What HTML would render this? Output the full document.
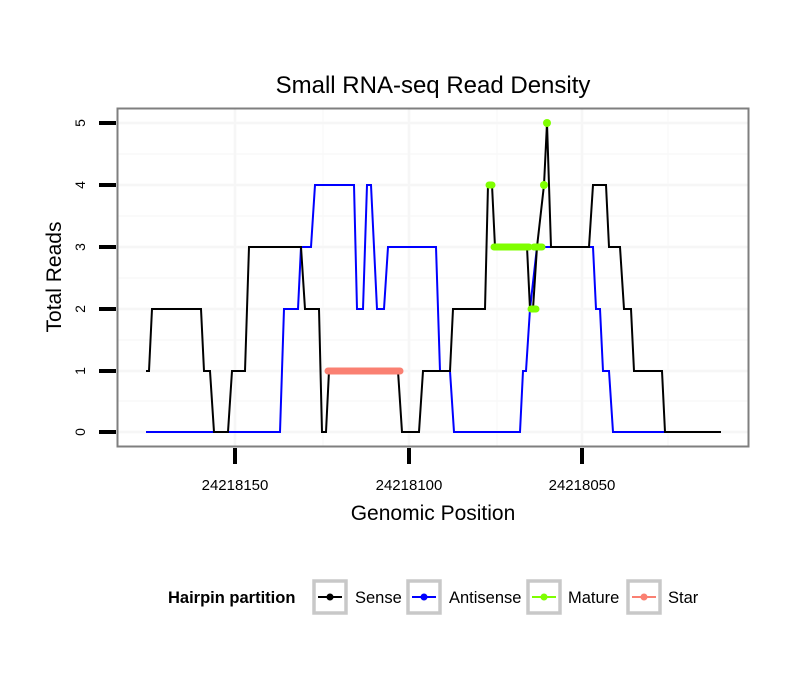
<!DOCTYPE html>
<html><head><meta charset="utf-8"><style>body{margin:0;background:#fff}svg{display:block}text{font-family:"Liberation Sans",sans-serif}</style></head><body>
<svg width="810" height="690" viewBox="0 0 810 690" xmlns="http://www.w3.org/2000/svg">
<rect width="810" height="690" fill="#fff"/>
<text x="433" y="93" font-size="24" text-anchor="middle">Small RNA-seq Read Density</text>
<g stroke="#f8f8f8" stroke-width="1.2">
<line x1="118" x2="748" y1="401" y2="401"/><line x1="118" x2="748" y1="340" y2="340"/><line x1="118" x2="748" y1="278" y2="278"/><line x1="118" x2="748" y1="216" y2="216"/><line x1="118" x2="748" y1="154" y2="154"/>
<line x1="323" x2="323" y1="109" y2="446"/><line x1="497" x2="497" y1="109" y2="446"/><line x1="668" x2="668" y1="109" y2="446"/>
</g>
<g stroke="#f6f6f6" stroke-width="2.5">
<line x1="118" x2="748" y1="432" y2="432"/><line x1="118" x2="748" y1="371" y2="371"/><line x1="118" x2="748" y1="309" y2="309"/><line x1="118" x2="748" y1="247" y2="247"/><line x1="118" x2="748" y1="185" y2="185"/><line x1="118" x2="748" y1="123" y2="123"/>
<line x1="235" x2="235" y1="109" y2="446"/><line x1="409" x2="409" y1="109" y2="446"/><line x1="582" x2="582" y1="109" y2="446"/>
</g>
<polyline fill="none" stroke="#0000ff" stroke-width="2" points="146,432 280,432 284,309 298,309 301,247 311,247 315,185 354,185 357,309 363,309 367,185 371,185 377,309 384,309 388,247 436,247 440,371 450,371 454,432 520,432 523,371 526,371 530,309 537,247 593,247 596,309 600,309 603,371 609,371 613,432 665,432"/>
<polyline fill="none" stroke="#000" stroke-width="2" points="146,371 149,371 152,309 201,309 204,371 210,371 214,432 228,432 232,371 245,371 249,247 301,247 305,309 319,309 322,432 326,432 329,371 398,371 402,432 419,432 423,371 450,371 453,309 485,309 488,185 492,185 495,247 527,247 530,309 533,309 537,247 544,185 547,123 551,247 589,247 593,185 606,185 609,247 620,247 624,309 631,309 634,371 662,371 665,432 721,432"/>
<line x1="328" y1="371" x2="400" y2="371" stroke="#fa8072" stroke-width="7" stroke-linecap="round"/>
<g fill="#7fff00">
<line x1="494" y1="247" x2="529" y2="247" stroke="#7fff00" stroke-width="7" stroke-linecap="round"/>
<line x1="534" y1="247" x2="542" y2="247" stroke="#7fff00" stroke-width="7" stroke-linecap="round"/>
<line x1="489" y1="185" x2="492" y2="185" stroke="#7fff00" stroke-width="7" stroke-linecap="round"/>
<line x1="531" y1="309" x2="536" y2="309" stroke="#7fff00" stroke-width="7" stroke-linecap="round"/>
<circle cx="544" cy="185" r="4"/><circle cx="547" cy="123" r="4"/>
</g>
<rect x="117.5" y="108.5" width="631" height="338" fill="none" stroke="#7f7f7f" stroke-width="2"/>
<g stroke="#000" stroke-width="4">
<line x1="99" x2="116" y1="432" y2="432"/><line x1="99" x2="116" y1="371" y2="371"/><line x1="99" x2="116" y1="309" y2="309"/><line x1="99" x2="116" y1="247" y2="247"/><line x1="99" x2="116" y1="185" y2="185"/><line x1="99" x2="116" y1="123" y2="123"/>
<line x1="235" x2="235" y1="448" y2="464"/><line x1="409" x2="409" y1="448" y2="464"/><line x1="582" x2="582" y1="448" y2="464"/>
</g>
<g font-size="14" text-anchor="middle">
<text transform="translate(85,432) rotate(-90)">0</text><text transform="translate(85,371) rotate(-90)">1</text><text transform="translate(85,309) rotate(-90)">2</text><text transform="translate(85,247) rotate(-90)">3</text><text transform="translate(85,185) rotate(-90)">4</text><text transform="translate(85,123) rotate(-90)">5</text>
</g>
<g font-size="15" text-anchor="middle">
<text x="235" y="490">24218150</text><text x="409" y="490">24218100</text><text x="582" y="490">24218050</text>
</g>
<text x="433" y="520" font-size="21" text-anchor="middle">Genomic Position</text>
<text transform="translate(61,277) rotate(-90)" font-size="21" text-anchor="middle">Total Reads</text>
<text x="168" y="603" font-size="16.5" font-weight="bold">Hairpin partition</text>
<g stroke="#c8c8c8" stroke-width="3.5" fill="#fff">
<rect x="314" y="581" width="32" height="32"/><rect x="408" y="581" width="32" height="32"/><rect x="528" y="581" width="32" height="32"/><rect x="628" y="581" width="32" height="32"/>
</g>
<g stroke-width="2">
<line x1="318" x2="342" y1="597" y2="597" stroke="#000"/><circle cx="330" cy="597" r="3.5" fill="#000"/>
<line x1="412" x2="436" y1="597" y2="597" stroke="#0000ff"/><circle cx="424" cy="597" r="3.5" fill="#0000ff"/>
<line x1="532" x2="556" y1="597" y2="597" stroke="#7fff00"/><circle cx="544" cy="597" r="3.5" fill="#7fff00"/>
<line x1="632" x2="656" y1="597" y2="597" stroke="#fa8072"/><circle cx="644" cy="597" r="3.5" fill="#fa8072"/>
</g>
<g font-size="16.5">
<text x="355" y="603">Sense</text><text x="449" y="603">Antisense</text><text x="568" y="603">Mature</text><text x="668" y="603">Star</text>
</g>
</svg>
</body></html>
